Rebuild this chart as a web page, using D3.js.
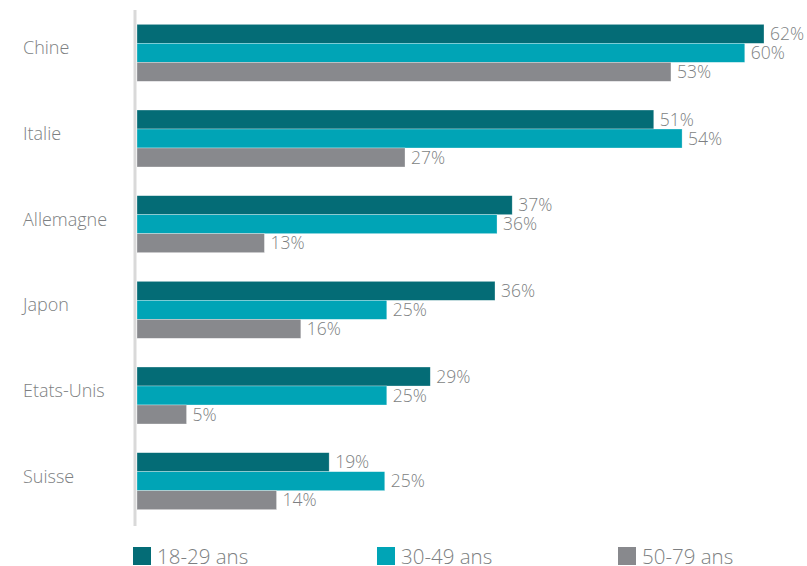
<!DOCTYPE html>
<html>
<head>
<meta charset="utf-8">
<script src="https://cdn.jsdelivr.net/npm/d3@7"></script>
<style>
  body { margin: 0; background: #fff; }
  text { font-family: "Open Sans", sans-serif; font-weight: 300; fill: #7d7f82; }
</style>
</head>
<body>
<div id="chart"></div>
<script>
const countries = ["Chine", "Italie", "Allemagne", "Japon", "Etats-Unis", "Suisse"]
const ages = ["18-29 ans", "30-49 ans", "50-79 ans"]
// bar lengths as drawn (unrounded shares)
const young = [62, 51.1, 37.1, 35.4, 29, 19]
const middle = [60.1, 53.9, 35.6, 24.7, 24.7, 24.5]
const senior = [52.8, 26.5, 12.6, 16.2, 4.9, 13.8]
// printed labels
const youngLabels = [62, 51, 37, 36, 29, 19]
const middleLabels = [60, 54, 36, 25, 25, 25]
const seniorLabels = [53, 27, 13, 16, 5, 14]
const seriesValues = [young, middle, senior]
const seriesLabels = [youngLabels, middleLabels, seniorLabels]
const colors = ["#046c76", "#00a4b6", "#88898d"]

const width = 807
const height = 566

const svg = d3.select("#chart").append("svg")
    .attr("width", width)
    .attr("height", height)

const y = d3.scaleBand()
    .domain(countries)
    .range([10, 524])
    .paddingInner(0.335)
    .paddingOuter(0.1675)

const ySub = d3.scaleBand()
    .domain(ages)
    .range([0, y.bandwidth()])

const x = d3.scaleLinear()
    .domain([0, 62])
    .range([137, 764])

// vertical axis line
svg.append("line")
    .attr("x1", 135).attr("x2", 135)
    .attr("y1", 10).attr("y2", 526)
    .attr("stroke", "#d9d9d9")
    .attr("stroke-width", 3)

const rows = []
countries.forEach((c, i) => {
  ages.forEach((a, j) => {
    rows.push({country: c, age: a, value: seriesValues[j][i], label: seriesLabels[j][i], color: colors[j]})
  })
})

const groups = svg.append("g")

groups.selectAll("rect")
  .data(rows)
  .join("rect")
    .attr("x", x(0))
    .attr("y", d => y(d.country) + ySub(d.age))
    .attr("width", d => x(d.value) - x(0))
    .attr("height", ySub.bandwidth())
    .attr("fill", d => d.color)
    .attr("stroke", "#ffffff")
    .attr("stroke-opacity", 0.5)
    .attr("stroke-width", 0.6)

groups.selectAll("text.val")
  .data(rows)
  .join("text")
    .attr("class", "val")
    .attr("x", d => x(d.value) + 6)
    .attr("y", d => y(d.country) + ySub(d.age) + ySub.bandwidth() / 2)
    .attr("dy", "0.36em")
    .attr("font-size", 17.5)
    .text(d => d.label + "%")

// category labels
svg.append("g").selectAll("text")
  .data(countries)
  .join("text")
    .attr("x", 23)
    .attr("y", d => y(d) + y.bandwidth() / 2 - 5)
    .attr("dy", "0.36em")
    .attr("font-size", 18)
    .text(d => d)

// legend
const legendX = [133, 377, 618]
const legend = svg.append("g").selectAll("g")
  .data(ages)
  .join("g")
    .attr("transform", (d, i) => `translate(${legendX[i]},547)`)

legend.append("rect")
    .attr("width", 18)
    .attr("height", 18)
    .attr("fill", (d, i) => colors[i])

legend.append("text")
    .attr("x", 24)
    .attr("y", 17)
    .attr("font-size", 20.5)
    .text(d => d)
</script>
</body>
</html>
